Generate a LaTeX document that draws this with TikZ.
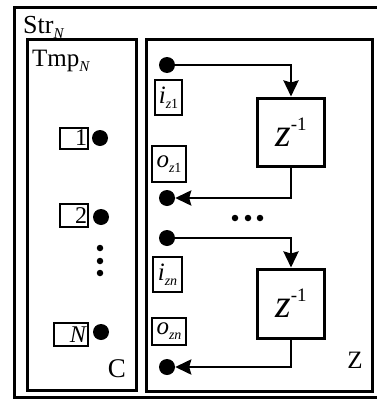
\documentclass[tikz,border=0pt]{standalone}
\usepackage{fontspec}
\setmainfont{Liberation Serif}
\usetikzlibrary{arrows.meta,positioning}

\newcommand{\subN}[3][14]{#2\raisebox{-5pt}{\fontsize{#1}{#1}\selectfont\textit{#3}}}
\newcommand{\zinv}{\textit{z}\raisebox{16pt}{\fontsize{19}{19}\selectfont -1}}

\begin{document}
\begin{tikzpicture}[x=1pt, y=-1pt, >={Stealth[length=16pt,width=15pt,inset=2pt]},
  frame/.style={draw,line width=3pt},
  lbl/.style={draw,line width=2pt,inner sep=0pt},
  pin/.style={circle,fill,minimum size=16pt,inner sep=0pt},
  tiny/.style={circle,fill,minimum size=6.5pt,inner sep=0pt},
  dly/.style={draw,line width=3pt,minimum width=67pt,minimum height=68pt,inner sep=0pt,
    font=\fontsize{40}{44}\selectfont},
  wire/.style={line width=2.8pt}]
\useasboundingbox (0,0) rectangle (377,399);
\clip (0,0) rectangle (377,399);
% --- frames ---
\draw[frame] (14,7) rectangle (390,397);
\draw[frame] (27,39) rectangle (136,390);
\draw[frame] (146,39) rectangle (372,391);
\node[anchor=base west,inner sep=0pt,font=\fontsize{26}{28}\selectfont] (str) at (23,33) {\subN[15]{Str}{N}};
\node[anchor=base west,inner sep=0pt,font=\fontsize{25}{28}\selectfont] (tmp) at (32,66) {\subN[15]{Tmp}{N}};
% --- C: cells 1,2,...,N ---
\begin{scope}[font=\fontsize{24}{24}\selectfont]
  \node[lbl,minimum width=28pt,minimum height=21pt,align=right,text width=26pt] (c1) at (74,138) {1};
  \node[pin] (p1) at (100,138) {};
  \node[lbl,minimum width=28pt,minimum height=23pt,align=right,text width=26pt] (c2) at (74,215.5) {2};
  \node[pin] (p2) at (101,217) {};
  \node[lbl,minimum width=34pt,minimum height=23pt,align=right,text width=32pt] (cN) at (71,334.5) {\textit{N}};
  \node[pin] (pN) at (101,332) {};
  \node[tiny] (v1) at (100,248) {};
  \node[tiny] (v2) at (100,261) {};
  \node[tiny] (v3) at (100,273) {};
  \node[font=\fontsize{27}{28}\selectfont] (clbl) at (117,369) {C};
\end{scope}
% --- Z: delay lines ---
\node[pin] (i1) at (167,65) {};
\node[dly] (d1) at (291,132) {\zinv};
\node[pin] (o1) at (167,198) {};
\draw[wire,->] (i1) -| (d1.north);
\draw[wire,->] (d1.south) |- (o1);
\node[lbl,minimum width=27pt,minimum height=35pt] (li1) at (168.5,97.5)
  {\fontsize{25}{26}\selectfont\subN{\textit{i}}{z\upshape 1}};
\node[lbl,minimum width=34pt,minimum height=36pt] (lo1) at (169,164)
  {\fontsize{25}{26}\selectfont\subN{\textit{o}}{z\upshape 1}};
\node[tiny] (h1) at (235,218) {};
\node[tiny] (h2) at (248,218) {};
\node[tiny] (h3) at (260,218) {};
\node[pin] (in) at (167,238) {};
\node[dly,minimum height=69pt] (dn) at (291,303.5) {\zinv};
\node[pin] (on) at (167,367) {};
\draw[wire,->] (in) -| (dn.north);
\draw[wire,->] (dn.south) |- (on);
\node[lbl,minimum width=29pt,minimum height=35pt] (lin) at (167.5,274.5)
  {\fontsize{25}{26}\selectfont\subN{\textit{i}}{zn}};
\node[lbl,minimum width=34pt,minimum height=27pt] (lon) at (169,331.5)
  {\fontsize{25}{26}\selectfont\subN{\textit{o}}{zn}};
\node[font=\fontsize{25}{26}\selectfont] (zlbl) at (355,360) {Z};
\end{tikzpicture}
\end{document}
